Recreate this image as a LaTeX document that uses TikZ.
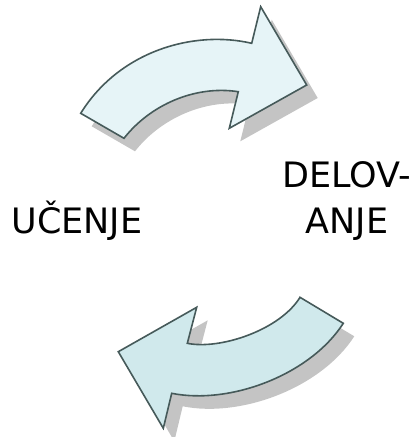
\documentclass[tikz,border=0pt]{standalone}
\usepackage{fontspec}
\setmainfont{DejaVu Sans}
\definecolor{edge}{HTML}{465A5A}
\definecolor{fillA}{HTML}{E6F4F7}
\definecolor{fillB}{HTML}{D0E9EC}
\definecolor{shade}{HTML}{C4C4C4}
\tikzset{
  arrowbody/.style={draw=edge, line width=1.6pt, line join=miter},
  arrowshadow/.style={fill=shade, draw=none},
  label/.style={font=\fontsize{35}{46}\selectfont, align=center, inner sep=0pt},
}
\begin{document}
\begin{tikzpicture}[x=1pt, y=-1pt]
\useasboundingbox (0,0) rectangle (412,437);

% upper curved arrow (pointing right)
\def\upperarrow{
  (80.7,113.3) .. controls (120,50) and (195,30) .. (251.7,43.3)
  -- (260.7,6.7) -- (306.7,85) -- (229.3,128.3) -- (238.3,91.7)
  .. controls (195,85) and (150,105) .. (124,138.3) -- cycle}
% lower curved arrow (pointing left)
\def\lowerarrow{
  (300,297.3) .. controls (280,330) and (220,350) .. (187.3,343.3)
  -- (196.7,307.3) -- (118.3,351.7) -- (163.3,428.3) -- (171.7,393.3)
  .. controls (230,405) and (310,375) .. (343.3,323.3) -- cycle}

\begin{scope}[shift={(11,13)}]
  \path[arrowshadow] \upperarrow;
  \path[arrowshadow] \lowerarrow;
\end{scope}
\path[arrowbody, fill=fillA] \upperarrow;
\path[arrowbody, fill=fillB] \lowerarrow;

\node[label, anchor=base] (ucenje) at (77,233) {UČENJE};
\node[label, anchor=base] (delovanje) at (347,233) {DELOV-\\ANJE};
\end{tikzpicture}
\end{document}
